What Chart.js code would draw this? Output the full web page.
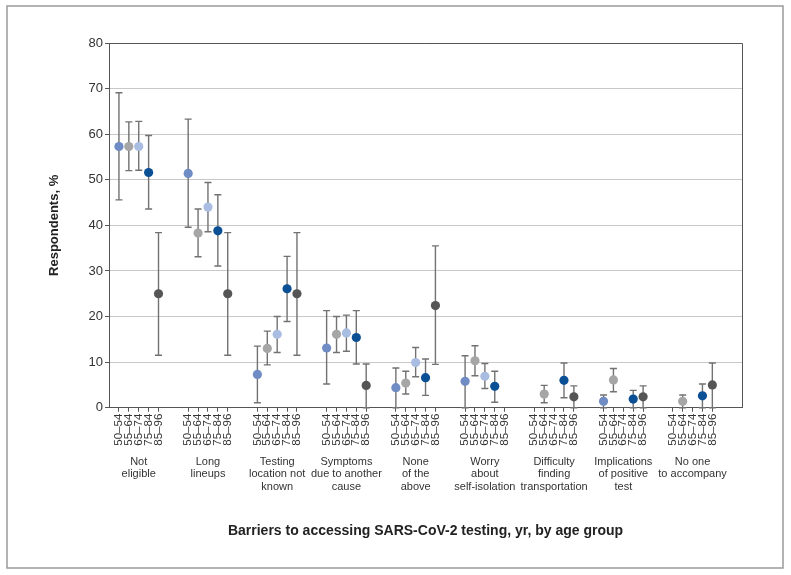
<!DOCTYPE html>
<html><head><meta charset="utf-8">
<script src="https://cdn.jsdelivr.net/npm/chart.js@4.4.1/dist/chart.umd.min.js"></script>
<style>html,body{margin:0;padding:0;background:#fff}#wrap{width:791px;height:575px;position:relative}</style>
</head><body><div id="wrap"><canvas id="c"></canvas></div>
<script>
// ---- data ----
const categories = [["Not","eligible"],["Long","lineups"],["Testing","location not","known"],["Symptoms","due to another","cause"],["None","of the","above"],["Worry","about","self-isolation"],["Difficulty","finding","transportation"],["Implications","of positive","test"],["No one","to accompany"]];
const ageGroups = ["50–54","55–64","65–74","75–84","85–96"];
const ageColors = ["#6f8cc4","#a6a6a6","#a9bde2","#0b4f95","#555555"];

const v5054  = [57.3, 51.4, 7.3, 13.1, 4.4, 5.8, null, 1.4, null];
const lo5054 = [45.6, 39.6, 1.1, 5.2, 0, 0, null, 0, null];
const hi5054 = [69.1, 63.3, 13.5, 21.3, 8.7, 11.4, null, 2.8, null];

const v5564  = [57.3, 38.3, 13.0, 16.1, 5.4, 10.3, 3.0, 6.1, 1.4];
const lo5564 = [52.0, 33.1, 9.4, 12.1, 3.0, 7.0, 1.1, 3.5, 0];
const hi5564 = [62.7, 43.6, 16.8, 20.0, 8.0, 13.6, 4.9, 8.6, 2.8];

const v6574  = [57.3, 44.0, 16.1, 16.4, 9.9, 6.9, null, null, null];
const lo6574 = [52.1, 38.6, 12.1, 12.4, 6.8, 4.2, null, null, null];
const hi6574 = [62.8, 49.4, 20.0, 20.3, 13.2, 9.7, null, null, null];

const v7584  = [51.6, 38.8, 26.1, 15.4, 6.6, 4.7, 6.0, 1.9, 2.6];
const lo7584 = [43.6, 31.1, 18.9, 9.6, 2.7, 1.2, 2.2, 0, 0];
const hi7584 = [59.7, 46.7, 33.2, 21.3, 10.7, 8.0, 9.8, 3.8, 5.2];

const v8596  = [25.0, 25.0, 25.0, 4.9, 22.4, null, 2.4, 2.4, 5.0];
const lo8596 = [11.5, 11.5, 11.5, 0, 9.5, null, 0, 0, 0];
const hi8596 = [38.4, 38.4, 38.4, 9.6, 35.5, null, 4.8, 4.8, 9.8];

const yTicks = [0,10,20,30,40,50,60,70,80];

// ---- build ----
const SLOTS = 7; // 5 ages + 2 gap slots per group
const seriesV  = [v5054, v5564, v6574, v7584, v8596];
const seriesLo = [lo5054, lo5564, lo6574, lo7584, lo8596];
const seriesHi = [hi5054, hi5564, hi6574, hi7584, hi8596];

const datasets = ageGroups.map((ag, a) => ({
  label: ag,
  data: categories.map((c, g) => seriesV[a][g] == null ? null :
    {x: g*SLOTS + a, y: seriesV[a][g], lo: seriesLo[a][g], hi: seriesHi[a][g]}).filter(p => p),
  backgroundColor: ageColors[a],
  borderColor: ageColors[a],
  pointRadius: 4.6,
  pointHoverRadius: 4.6,
  borderWidth: 0
}));

const agePositions = [];
categories.forEach((c, g) => ageGroups.forEach((ag, a) => agePositions.push(g*SLOTS + a)));
const groupCenters = categories.map((c, g) => g*SLOTS + 2);

const FONT = "'Liberation Sans', Arial, Helvetica, sans-serif";

const errorBars = {
  id: 'errorBars',
  beforeDatasetsDraw(chart) {
    const {ctx, scales: {x, y}} = chart;
    ctx.save();
    ctx.strokeStyle = '#727272';
    ctx.lineWidth = 1.4;
    chart.data.datasets.forEach(ds => {
      ds.data.forEach(p => {
        const px = x.getPixelForValue(p.x);
        const yl = y.getPixelForValue(p.lo);
        const yh = y.getPixelForValue(p.hi);
        ctx.beginPath();
        ctx.moveTo(px, yl); ctx.lineTo(px, yh);
        ctx.moveTo(px-3.5, yl); ctx.lineTo(px+3.5, yl);
        ctx.moveTo(px-3.5, yh); ctx.lineTo(px+3.5, yh);
        ctx.stroke();
      });
    });
    ctx.restore();
  }
};

const frame = {
  id: 'frame',
  afterDraw(chart) {
    const {ctx, chartArea: ca} = chart;
    ctx.save();
    ctx.strokeStyle = '#555';
    ctx.lineWidth = 1;
    ctx.beginPath();
    ctx.moveTo(ca.left, ca.top + 0.5); ctx.lineTo(ca.right + 0.5, ca.top + 0.5); ctx.lineTo(ca.right + 0.5, ca.bottom);
    ctx.stroke();
    ctx.strokeStyle = '#9a9a9a';
    ctx.lineWidth = 1.5;
    ctx.strokeRect(7, 6, 776, 562);
    ctx.restore();
  }
};

new Chart(document.getElementById('c'), {
  type: 'scatter',
  data: {datasets},
  options: {
    responsive: true,
    maintainAspectRatio: false,
    animation: false,
    events: [],
    layout: {padding: {left: 40, top: 43, right: 49, bottom: 35}},
    plugins: {legend: {display: false}, tooltip: {enabled: false}},
    scales: {
      y: {
        min: 0, max: 80,
        afterBuildTicks: axis => { axis.ticks = yTicks.map(v => ({value: v})); },
        ticks: {font: {family: FONT, size: 13}, color: '#333', padding: 2},
        grid: {color: '#c8c8c8', tickColor: '#555', tickLength: 4, lineWidth: 1},
        border: {color: '#555', width: 1},
        title: {display: true, text: 'Respondents, %', color: '#222',
          font: {family: FONT, size: 13, weight: 'bold'}, padding: {top: 7, bottom: 24}}
      },
      x: {
        type: 'linear', position: 'bottom', min: -1, max: 63,
        afterBuildTicks: axis => { axis.ticks = agePositions.map(v => ({value: v})); },
        ticks: {
          autoSkip: false, maxRotation: 90, minRotation: 90, padding: 2,
          font: {family: FONT, size: 11.5}, color: '#333',
          callback: v => ageGroups[((v % SLOTS) + SLOTS) % SLOTS]
        },
        grid: {drawOnChartArea: false, color: '#555', tickLength: 4},
        border: {color: '#555', width: 1}
      },
      x2: {
        type: 'linear', position: 'bottom', min: -1, max: 63,
        afterBuildTicks: axis => { axis.ticks = groupCenters.map(v => ({value: v})); },
        ticks: {
          autoSkip: false, maxRotation: 0, minRotation: 0, padding: 0,
          font: {family: FONT, size: 11, lineHeight: '12.5px'}, color: '#333',
          callback: v => categories[Math.round((v - 2) / SLOTS)]
        },
        grid: {display: false},
        border: {display: false},
        title: {display: true, text: 'Barriers to accessing SARS-CoV-2 testing, yr, by age group',
          color: '#222', font: {family: FONT, size: 14, weight: 'bold'}, padding: {top: 30, bottom: 0}}
      }
    }
  },
  plugins: [errorBars, frame]
});
</script>
</body></html>
